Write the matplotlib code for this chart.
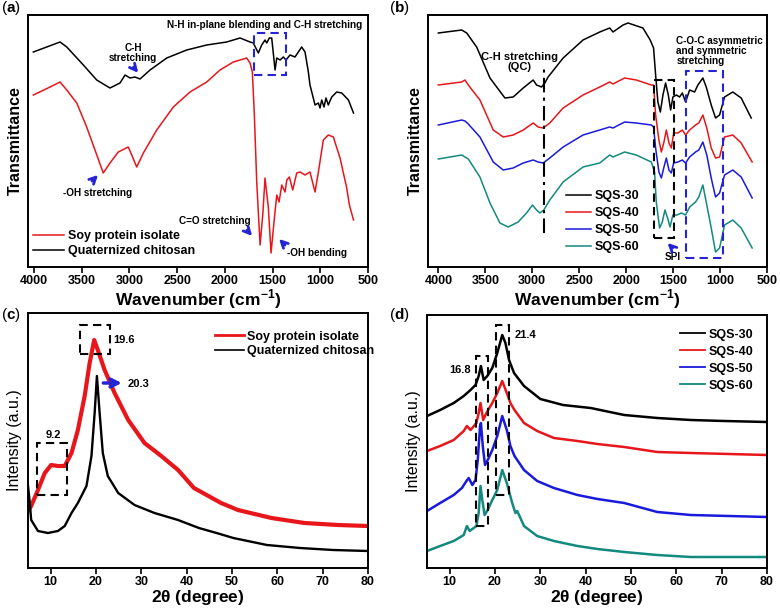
import matplotlib
matplotlib.use('Agg')
import matplotlib.pyplot as plt
from matplotlib.patches import Rectangle

plt.rcParams['font.family'] = ['Liberation Sans', 'DejaVu Sans']
plt.rcParams['mathtext.fontset'] = 'custom'
plt.rcParams['mathtext.bf'] = 'Liberation Sans:bold'
plt.rcParams['mathtext.rm'] = 'Liberation Sans'

RED = '#e8161b'
BLUE = '#1a1adc'
TEAL = '#13897f'
ABLUE = '#2424d4'

# ---- (a) FTIR of the raw materials ----
qc_wn = [4007, 3727, 3657, 3483, 3343, 3204, 3099, 3046, 2994, 2942, 2889, 2784, 2609, 2400,
         2190, 1981, 1841, 1736, 1702, 1649, 1614, 1579, 1561, 1534, 1509, 1474, 1456, 1421,
         1387, 1359, 1317, 1265, 1195, 1160, 1125, 1108, 1055, 1020, 1003, 985, 961, 940, 916,
         880, 828, 775, 705, 652]
qc_t = [215, 225, 220, 202, 187, 179, 184, 192, 189, 190, 188, 197, 209, 217,
        222, 225, 229, 225, 224, 214, 222, 227, 224, 229, 229, 197, 209, 207,
        210, 207, 212, 210, 220, 215, 195, 182, 162, 164, 159, 167, 160, 169, 162,
        170, 175, 174, 167, 154]
spi_wn = [4007, 3832, 3727, 3657, 3552, 3448, 3361, 3274, 3204, 3117, 3012, 2976, 2924, 2854,
          2714, 2540, 2365, 2190, 2051, 1911, 1771, 1736, 1712, 1691, 1666, 1631, 1603, 1579,
          1544, 1516, 1485, 1456, 1432, 1404, 1369, 1351, 1324, 1289, 1247, 1212, 1160, 1108,
          1055, 1020, 968, 916, 863, 793, 723, 695, 652]
spi_t = [172, 180, 185, 177, 164, 140, 117, 94, 104, 115, 120, 112, 100, 114,
         137, 160, 175, 185, 197, 205, 209, 204, 195, 152, 85, 22, 52, 89,
         59, 14, 45, 72, 65, 82, 75, 87, 90, 77, 94, 95, 92, 95,
         75, 95, 127, 132, 130, 109, 79, 62, 47]

# ---- (b) FTIR of the SQS films ----
b_wn30 = [4000, 3751, 3698, 3592, 3450, 3291, 3203, 3096, 2990, 2954, 2901, 2866, 2831, 2671,
          2459, 2281, 2175, 2140, 2033, 1980, 1821, 1744, 1708, 1686, 1662, 1636, 1608, 1580,
          1551, 1526, 1502, 1466, 1431, 1402, 1367, 1324, 1271, 1236, 1183, 1147, 1094, 1048,
          1005, 952, 864, 775, 668]
b_t30 = [234, 237, 234, 220, 189, 169, 170, 179, 187, 182, 180, 184, 190, 209,
         227, 235, 239, 235, 242, 244, 239, 227, 219, 192, 165, 155, 172, 184,
         172, 157, 170, 172, 170, 174, 165, 177, 175, 182, 189, 180, 162, 149,
         152, 170, 175, 169, 149]
b_wn = [4000, 3751, 3716, 3681, 3557, 3415, 3309, 3203, 3096, 2990, 2937, 2884, 2813, 2671,
        2459, 2281, 2175, 2140, 2016, 1892, 1732, 1708, 1686, 1651, 1625, 1597, 1572, 1544,
        1519, 1494, 1449, 1402, 1367, 1324, 1261, 1226, 1183, 1141, 1094, 1048, 1005, 952,
        864, 775, 658]
b_t40 = [182, 185, 187, 182, 167, 137, 130, 132, 137, 144, 140, 139, 144, 159,
         172, 180, 185, 183, 189, 187, 182, 182, 152, 127, 115, 125, 137, 124,
         119, 134, 134, 137, 132, 137, 142, 144, 152, 139, 119, 109, 110, 130,
         132, 124, 105]
b_t50 = [142, 147, 146, 143, 130, 105, 97, 99, 104, 107, 105, 104, 109, 120,
         132, 137, 140, 139, 145, 144, 142, 140, 119, 95, 89, 100, 109, 97,
         94, 104, 105, 107, 104, 110, 115, 117, 125, 112, 89, 70, 74, 92,
         97, 90, 69]
b_wn60 = [4000, 3751, 3681, 3557, 3450, 3344, 3256, 3150, 3061, 2997, 2954, 2919, 2877, 2813,
          2671, 2459, 2281, 2175, 2140, 2016, 1892, 1732, 1697, 1679, 1644, 1615, 1587, 1558,
          1533, 1502, 1459, 1413, 1367, 1324, 1261, 1226, 1183, 1141, 1094, 1048, 1005, 952,
          864, 775, 658]
b_t60 = [108, 112, 108, 90, 64, 44, 40, 45, 54, 62, 57, 54, 57, 67,
         85, 100, 104, 112, 110, 115, 112, 105, 95, 65, 39, 45, 57, 49,
         40, 52, 52, 54, 52, 60, 65, 70, 82, 62, 39, 15, 19, 42,
         47, 39, 19]
b_labels = ['SQS-30', 'SQS-40', 'SQS-50', 'SQS-60']

# ---- (c) XRD of the raw materials ----
c_spi_x = [5, 5.7, 7.2, 8.7, 10.1, 11.6, 13.1, 14.6, 16.0, 17.5, 18.6, 19.6, 20.4, 21.9, 24.1,
           27.1, 30.7, 34.4, 38.1, 41.6, 47.6, 51.3, 58.7, 66.0, 73.4, 80]
c_spi_y = [57, 62, 78, 95, 103, 102, 102, 115, 138, 172, 205, 228, 218, 198, 175,
           148, 125, 112, 98, 80, 65, 58, 50, 45, 43, 42]
c_qc_x = [5, 5.4, 5.7, 7.2, 9.4, 11.6, 13.1, 14.6, 16.0, 17.9, 19.0, 19.7, 20.2, 20.8, 21.5,
          22.6, 24.9, 28.5, 32.9, 38.1, 42.7, 46.6, 50.3, 57.7, 65.0, 72.3, 80]
c_qc_y = [82, 65, 48, 37, 35, 37, 42, 55, 65, 82, 112, 155, 192, 155, 115,
          92, 75, 63, 55, 48, 40, 35, 30, 23, 20, 18, 17]

# ---- (d) XRD of the SQS films ----
d_x30 = [5, 7.9, 10.9, 13.1, 14.6, 15.7, 16.4, 16.9, 17.5, 18.3, 19.4, 20.5, 21.6, 22.3, 23.1,
         24.2, 26.4, 30.0, 35.0, 41.1, 48.5, 55.8, 63.2, 70.6, 80]
d_y30 = [152, 158, 165, 172, 178, 183, 192, 202, 188, 192, 200, 215, 233, 225, 208,
         195, 182, 169, 163, 160, 153, 150, 148, 147, 146]
d_x40 = [5, 7.9, 10.9, 13.1, 13.8, 14.6, 15.9, 16.4, 16.8, 17.4, 18.1, 19.4, 20.5, 21.6, 22.6,
         23.4, 24.3, 26.4, 29.3, 33.0, 38.2, 42.6, 48.5, 55.8, 63.2, 80]
d_y40 = [117, 122, 128, 137, 142, 138, 145, 155, 165, 148, 155, 165, 175, 187, 175,
         165, 158, 145, 137, 130, 127, 124, 121, 116, 115, 113]
d_x50 = [5, 7.9, 10.9, 12.7, 13.7, 14.2, 15.0, 15.7, 16.2, 16.7, 16.9, 17.3, 17.8, 18.4, 19.4,
         20.5, 21.6, 22.6, 23.4, 24.3, 26.4, 29.3, 33.0, 38.2, 42.6, 48.5, 55.8, 63.2, 80]
d_y50 = [57, 65, 73, 80, 87, 90, 83, 88, 108, 142, 145, 122, 103, 108, 118,
         132, 152, 138, 122, 112, 98, 87, 80, 73, 69, 65, 56, 53, 51]
d_x60 = [5, 7.9, 10.9, 13.1, 13.8, 14.4, 15.9, 16.4, 16.8, 17.2, 17.7, 18.4, 19.4, 20.5, 21.6,
         22.6, 23.8, 24.5, 24.9, 26.4, 29.3, 33.0, 38.2, 42.6, 48.5, 55.8, 63.2, 80]
d_y60 = [17, 22, 27, 33, 42, 37, 42, 55, 82, 68, 53, 58, 68, 78, 98,
         85, 65, 55, 57, 42, 32, 27, 22, 19, 16, 13, 11, 11]

ir_ticks = [4000, 3500, 3000, 2500, 2000, 1500, 1000, 500]
xrd_ticks = [10, 20, 30, 40, 50, 60, 70, 80]

fig = plt.figure(figsize=(7.8, 6.12), dpi=100)
W, H = 780, 612


def make_ax(x0, y0, x1, y1, ticks):
    ax = fig.add_axes([x0 / W, 1 - y1 / H, (x1 - x0) / W, (y1 - y0) / H])
    for s in ax.spines.values():
        s.set_linewidth(1.4)
    ax.set_yticks([])
    ax.set_xticks(ticks)
    ax.set_xticklabels([str(t) for t in ticks], fontsize=9, fontweight='bold')
    ax.tick_params(axis='x', direction='out', length=4, width=1.2, pad=2)
    return ax


def box(ax, x0, x1, y0, y1, color):
    ax.add_patch(Rectangle((x0, y0), x1 - x0, y1 - y0, fill=False, ec=color,
                           ls=(0, (4, 2.5)), lw=1.5, zorder=5))


def arrow(ax, start, end, color=ABLUE, lw=2.0, ms=12):
    ax.annotate('', xy=end, xytext=start,
                arrowprops=dict(arrowstyle='->', color=color, lw=lw, mutation_scale=ms))


def legend(ax, anchor, loc, handlelength, labelspacing):
    ax.legend(loc=loc, bbox_to_anchor=anchor, frameon=False, handlelength=handlelength,
              handletextpad=0.3, labelspacing=labelspacing, borderaxespad=0,
              prop={'weight': 'bold', 'size': 9})


wn_label = 'Wavenumber (cm$^{\\mathbf{-1}}$)'
tt_label = r'2$\mathbf{\theta}$ (degree)'

# (a)
ax = make_ax(28, 15, 368, 267, ir_ticks)
ax.plot(spi_wn, spi_t, color=RED, lw=1.1, label='Soy protein isolate')
ax.plot(qc_wn, qc_t, color='black', lw=1.1, label='Quaternized chitosan')
ax.set_xlim(4063, 500)
ax.set_ylim(0, 252)
ax.set_xlabel(wn_label, fontsize=12.5, fontweight='bold', labelpad=0)
ax.set_ylabel('Transmittance', fontsize=11.5, fontweight='bold', labelpad=4)
legend(ax, (0.0, 0.02), 'lower left', 2.5, 0.2)
box(ax, 1694, 1359, 192, 234, ABLUE)
ax.text(1584, 242, 'N-H in-plane blending and C-H stretching', ha='center', va='center',
        fontsize=7.2, fontweight='bold')
ax.text(2962, 214, 'C-H\nstretching', ha='center', va='center', fontsize=7.2,
        fontweight='bold', linespacing=1.0)
arrow(ax, (2976, 202), (2889, 192))
ax.text(3329, 74, '-OH stretching', ha='center', va='center', fontsize=7.2, fontweight='bold')
arrow(ax, (3413, 84), (3308, 94))
ax.text(2103, 46, 'C=O stretching', ha='center', va='center', fontsize=7.2, fontweight='bold')
arrow(ax, (1789, 39), (1694, 29))
ax.text(1034, 14, '-OH bending', ha='center', va='center', fontsize=7.2, fontweight='bold')
arrow(ax, (1349, 20), (1453, 30))

# (b)
ax = make_ax(428, 15, 767, 267, ir_ticks)
colors = ['black', RED, BLUE, TEAL]
series = [(b_wn30, b_t30), (b_wn, b_t40), (b_wn, b_t50), (b_wn60, b_t60)]
for (xs, ys), c, lab in zip(series, colors, b_labels):
    ax.plot(xs, ys, color=c, lw=1.1, label=lab)
ax.set_xlim(4110, 500)
ax.set_ylim(0, 252)
ax.set_xlabel(wn_label, fontsize=12.5, fontweight='bold', labelpad=0)
ax.set_ylabel('Transmittance', fontsize=11.5, fontweight='bold', labelpad=4)
legend(ax, (0.392, 0.035), 'lower left', 2.0, 0.4)
ax.plot([2876, 2876], [34, 199], color='black', lw=1.5, ls=(0, (7, 2.5, 1.5, 2.5)))
box(ax, 1707, 1495, 29, 187, 'black')
box(ax, 1367, 970, 9, 196, ABLUE)
ax.text(3132, 205, 'C-H stretching\n(QC)', ha='center', va='center', fontsize=8,
        fontweight='bold', linespacing=1.0)
ax.text(1466, 216.5, 'C-O-C asymmetric\nand symmetric\nstretching', ha='left', va='center',
        fontsize=7.2, fontweight='bold', linespacing=1.0)
ax.text(1508, 10, 'SPI', ha='center', va='center', fontsize=7.2, fontweight='bold')
arrow(ax, (1484, 17), (1580, 26))

# (c)
ax = make_ax(28, 313, 368, 568, xrd_ticks)
ax.plot(c_spi_x, c_spi_y, color=RED, lw=3.0, label='Soy protein isolate')
ax.plot(c_qc_x, c_qc_y, color='black', lw=1.7, label='Quaternized chitosan')
ax.set_xlim(5, 80)
ax.set_ylim(0, 255)
ax.set_xlabel(tt_label, fontsize=12.5, fontweight='bold', labelpad=0)
ax.set_ylabel('Intensity (a.u.)', fontsize=11.5, labelpad=4)
legend(ax, (0.535, 0.95), 'upper left', 2.3, 0.2)
ax.get_legend().get_lines()[0].set_linewidth(2.0)
ax.get_legend().get_lines()[1].set_linewidth(1.2)
box(ax, 16.5, 23.0, 214, 243, 'black')
ax.text(23.7, 228, '19.6', ha='left', va='center', fontsize=8, fontweight='bold')
box(ax, 7.0, 13.7, 73, 125, 'black')
ax.text(10.5, 133, '9.2', ha='center', va='center', fontsize=8, fontweight='bold')
arrow(ax, (21.0, 185), (26.3, 185), lw=2.5, ms=14)
ax.text(26.9, 184, '20.3', ha='left', va='center', fontsize=8, fontweight='bold')

# (d)
ax = make_ax(427, 315, 767, 568, xrd_ticks)
d_series = [(d_x30, d_y30), (d_x40, d_y40), (d_x50, d_y50), (d_x60, d_y60)]
for (xs, ys), c, lab in zip(d_series, colors, b_labels):
    ax.plot(xs, ys, color=c, lw=1.8, label=lab)
ax.set_xlim(5, 80)
ax.set_ylim(0, 253)
ax.set_xlabel(tt_label, fontsize=12.5, fontweight='bold', labelpad=0)
ax.set_ylabel('Intensity (a.u.)', fontsize=11.5, labelpad=4)
legend(ax, (0.73, 0.965), 'upper left', 2.0, 0.4)
for ln in ax.get_legend().get_lines():
    ln.set_linewidth(1.3)
box(ax, 15.7, 18.4, 42, 212, 'black')
box(ax, 20.3, 23.1, 73, 243, 'black')
ax.text(12.3, 198, '16.8', ha='center', va='center', fontsize=8, fontweight='bold')
ax.text(24.3, 233, '21.4', ha='left', va='center', fontsize=8, fontweight='bold')

for lab, (x, y) in zip(['a', 'b', 'c', 'd'], [(1, 8), (389, 8), (1, 315), (389, 315)]):
    fig.text(x / W, 1 - y / H, '(' + r'$\mathbf{' + lab + '}$' + ')', ha='left', va='center',
             fontsize=11)

fig.savefig('out.png', dpi=100)
